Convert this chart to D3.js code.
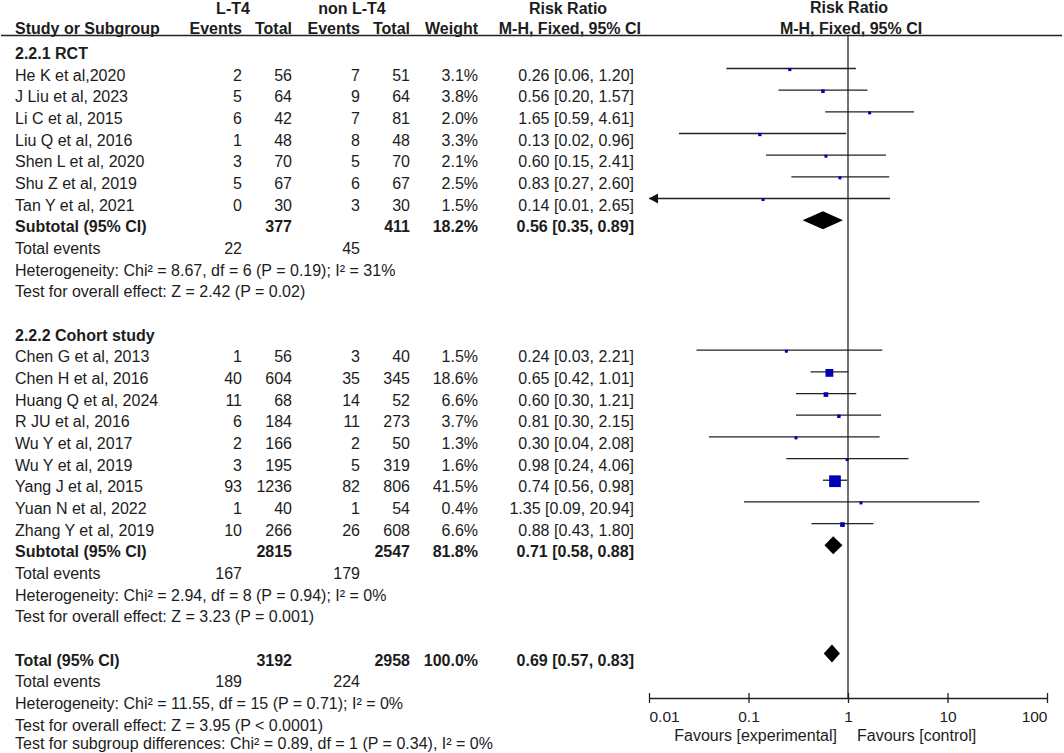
<!DOCTYPE html>
<html>
<head>
<meta charset="utf-8">
<script src="https://cdn.jsdelivr.net/npm/d3@7"></script>
<style>
  body { margin: 0; background: #fff; }
  svg text { font-family: "Liberation Sans", Arial, sans-serif; font-size: 16px; fill: #1c1c1c; }
  .b { font-weight: bold; }
</style>
</head>
<body>
<svg id="chart" width="1064" height="753"></svg>
<script>
// study level data
const studies = ['He K et al,2020', 'J Liu et al, 2023', 'Li C et al, 2015', 'Liu Q et al, 2016',
    'Shen L et al, 2020', 'Shu Z et al, 2019', 'Tan Y et al, 2021',
    'Chen G et al, 2013', 'Chen H et al, 2016', 'Huang Q et al, 2024', 'R JU et al, 2016',
    'Wu Y et al, 2017', 'Wu Y et al, 2019', 'Yang J et al, 2015', 'Yuan N et al, 2022', 'Zhang Y et al, 2019']
const studyGroup = [0, 0, 0, 0, 0, 0, 0, 1, 1, 1, 1, 1, 1, 1, 1, 1]
const expEvents = [2, 5, 6, 1, 3, 5, 0, 1, 40, 11, 6, 2, 3, 93, 1, 10]
const expTotal = [56, 64, 42, 48, 70, 67, 30, 56, 604, 68, 184, 166, 195, 1236, 40, 266]
const ctlEvents = [7, 9, 7, 8, 5, 6, 3, 3, 35, 14, 11, 2, 5, 82, 1, 26]
const ctlTotal = [51, 64, 81, 48, 70, 67, 30, 40, 345, 52, 273, 50, 319, 806, 54, 608]
const weights = [3.1, 3.8, 2.0, 3.3, 2.1, 2.5, 1.5, 1.5, 18.6, 6.6, 3.7, 1.3, 1.6, 41.5, 0.4, 6.6]
const rr = [0.26, 0.56, 1.65, 0.13, 0.60, 0.83, 0.14, 0.24, 0.65, 0.60, 0.81, 0.30, 0.98, 0.74, 1.35, 0.88]
const ciLow = [0.06, 0.20, 0.59, 0.02, 0.15, 0.27, 0.01, 0.03, 0.42, 0.30, 0.30, 0.04, 0.24, 0.56, 0.09, 0.43]
const ciHigh = [1.20, 1.57, 4.61, 0.96, 2.41, 2.60, 2.65, 2.21, 1.01, 1.21, 2.15, 2.08, 4.06, 0.98, 20.94, 1.80]

// subgroups, then overall as last entry
const groupNames = ['2.2.1 RCT', '2.2.2 Cohort study']
const sumLabels = ['Subtotal (95% CI)', 'Subtotal (95% CI)', 'Total (95% CI)']
const sumExpTotal = [377, 2815, 3192]
const sumCtlTotal = [411, 2547, 2958]
const sumWeight = ['18.2%', '81.8%', '100.0%']
const sumRR = [0.56, 0.71, 0.69]
const sumLow = [0.35, 0.58, 0.57]
const sumHigh = [0.89, 0.88, 0.83]
const sumExpEvents = [22, 167, 189]
const sumCtlEvents = [45, 179, 224]
const hetText = ['Heterogeneity: Chi² = 8.67, df = 6 (P = 0.19); I² = 31%',
    'Heterogeneity: Chi² = 2.94, df = 8 (P = 0.94); I² = 0%',
    'Heterogeneity: Chi² = 11.55, df = 15 (P = 0.71); I² = 0%']
const effectText = ['Test for overall effect: Z = 2.42 (P = 0.02)',
    'Test for overall effect: Z = 3.23 (P = 0.001)',
    'Test for overall effect: Z = 3.95 (P < 0.0001)']
const subgroupDiff = 'Test for subgroup differences: Chi² = 0.89, df = 1 (P = 0.34), I² = 0%'

const axisTicks = [0.01, 0.1, 1, 10, 100]

const svg = d3.select('#chart')
const fmt = d3.format('.2f')
const ciText = (m, l, h) => `${fmt(m)} [${fmt(l)}, ${fmt(h)}]`

// row layout: k -> vertical slot
const y = d3.scaleLinear().domain([0, 1]).range([75, 96.67])
const x = d3.scaleLog().domain([0.01, 100]).range([649, 1047])
const size = d3.scaleSqrt().domain([0, 41.5]).range([0, 11.7])

const col = { name: 15, ev1: 242, tot1: 292, ev2: 360, tot2: 410, wt: 478, rr: 634 }

// build rows
const rows = []
let k = -1
const blocks = [0, 1]
blocks.forEach(g => {
    rows.push({ k: k++, text: groupNames[g], bold: true })
    studies.forEach((s, i) => {
        if (studyGroup[i] !== g) return
        rows.push({ k: k++, text: s, ev1: expEvents[i], tot1: expTotal[i], ev2: ctlEvents[i], tot2: ctlTotal[i],
            wt: weights[i].toFixed(1) + '%', rr: ciText(rr[i], ciLow[i], ciHigh[i]),
            study: { m: rr[i], l: ciLow[i], h: ciHigh[i], w: weights[i] } })
    })
    pushSummary(g)
    k++ // blank line
})
pushSummary(2)
rows.push({ k: k - 0.15, text: subgroupDiff }) // nudged up so it stays inside the frame

function pushSummary(j) {
    rows.push({ k: k++, text: sumLabels[j], bold: true, tot1: sumExpTotal[j], tot2: sumCtlTotal[j], wt: sumWeight[j],
        rr: ciText(sumRR[j], sumLow[j], sumHigh[j]), diamond: { m: sumRR[j], l: sumLow[j], h: sumHigh[j] } })
    rows.push({ k: k++, text: 'Total events', ev1: sumExpEvents[j], ev2: sumCtlEvents[j] })
    rows.push({ k: k++, text: hetText[j] })
    rows.push({ k: k++, text: effectText[j] })
}

// header
const head = svg.append('g').attr('class', 'b')
head.append('text').attr('x', 233).attr('y', 14).attr('text-anchor', 'middle').text('L-T4')
head.append('text').attr('x', 352).attr('y', 14).attr('text-anchor', 'middle').text('non L-T4')
head.append('text').attr('x', 568).attr('y', 14).attr('text-anchor', 'middle').text('Risk Ratio')
head.append('text').attr('x', 849).attr('y', 13).attr('text-anchor', 'middle').text('Risk Ratio')
const hdr2 = [
    { x: col.name, a: 'start', t: 'Study or Subgroup' },
    { x: col.ev1, a: 'end', t: 'Events' },
    { x: col.tot1, a: 'end', t: 'Total' },
    { x: col.ev2, a: 'end', t: 'Events' },
    { x: col.tot2, a: 'end', t: 'Total' },
    { x: col.wt, a: 'end', t: 'Weight' },
    { x: 641, a: 'end', t: 'M-H, Fixed, 95% CI' },
    { x: 851, a: 'middle', t: 'M-H, Fixed, 95% CI' }
]
head.selectAll('text.h2').data(hdr2).enter()
    .append('text').attr('class', 'h2')
    .attr('x', d => d.x).attr('y', 34).attr('text-anchor', d => d.a)
    .text(d => d.t)

svg.append('line').attr('x1', 1).attr('x2', 1062).attr('y1', 35.5).attr('y2', 35.5)
    .attr('stroke', '#222').attr('stroke-width', 1.5)

// table text
const rowG = svg.selectAll('g.row').data(rows).enter()
    .append('g').attr('class', 'row')
    .classed('b', d => d.bold)
    .attr('transform', d => `translate(0,${y(d.k) + 5.7})`)

rowG.append('text').attr('x', col.name).text(d => d.text)
const cells = ['ev1', 'tot1', 'ev2', 'tot2', 'wt', 'rr']
cells.forEach(c => {
    rowG.filter(d => d[c] !== undefined)
        .append('text').attr('x', col[c]).attr('text-anchor', 'end')
        .text(d => d[c])
})

// plot: null line
svg.append('line').attr('x1', x(1)).attr('x2', x(1)).attr('y1', 35.5).attr('y2', 698)
    .attr('stroke', '#222').attr('stroke-width', 1.3)

const plotRows = rows.filter(d => d.study)
const cy = d => y(d.k) - 6.5

svg.selectAll('line.ci').data(plotRows).enter()
    .append('line').attr('class', 'ci')
    .attr('x1', d => x(Math.max(d.study.l, 0.01))).attr('x2', d => x(Math.min(d.study.h, 100)))
    .attr('y1', cy).attr('y2', cy)
    .attr('stroke', '#222').attr('stroke-width', 1.3)

// arrows where CI reaches the axis limit
svg.selectAll('path.arrow').data(plotRows.filter(d => d.study.l <= 0.01)).enter()
    .append('path').attr('class', 'arrow')
    .attr('d', d => {
        const x0 = x(0.01), yy = cy(d)
        return `M${x0},${yy} L${x0 + 9},${yy - 5} L${x0 + 9},${yy + 5} Z`
    })
    .attr('fill', '#111')

svg.selectAll('rect.pt').data(plotRows).enter()
    .append('rect').attr('class', 'pt')
    .attr('width', d => Math.max(3, size(d.study.w)))
    .attr('height', d => Math.max(3, size(d.study.w)))
    .attr('x', d => x(d.study.m) - Math.max(3, size(d.study.w)) / 2)
    .attr('y', d => cy(d) + 1 - Math.max(3, size(d.study.w)) / 2)
    .attr('fill', '#0000b4')

svg.selectAll('path.diamond').data(rows.filter(d => d.diamond)).enter()
    .append('path').attr('class', 'diamond')
    .attr('d', d => {
        const yy = cy(d), h = 9
        return `M${x(d.diamond.l)},${yy} L${x(d.diamond.m)},${yy - h} L${x(d.diamond.h)},${yy} L${x(d.diamond.m)},${yy + h} Z`
    })
    .attr('fill', '#000')

// axis
const axisG = svg.append('g').attr('transform', 'translate(0,698)')
    .call(d3.axisBottom(x).tickValues(axisTicks).tickFormat(d => String(d)).tickSizeOuter(0).tickSizeInner(5).tickPadding(8))
axisG.select('.domain').attr('stroke', '#222').attr('stroke-width', 1.3)
axisG.selectAll('.tick line').attr('y1', -5).attr('y2', 5).attr('stroke', '#222').attr('stroke-width', 1.3)
axisG.selectAll('.tick text')
    .attr('fill', '#1c1c1c').style('font-size', '15.5px').style('font-family', '"Liberation Sans", Arial, sans-serif')
    .attr('text-anchor', (d, i) => i === 0 ? 'start' : (i === axisTicks.length - 1 ? 'end' : 'middle'))

svg.append('text').attr('x', x(1) - 11).attr('y', 741).attr('text-anchor', 'end').text('Favours [experimental]')
svg.append('text').attr('x', x(1) + 9).attr('y', 741).text('Favours [control]')
</script>
</body>
</html>
